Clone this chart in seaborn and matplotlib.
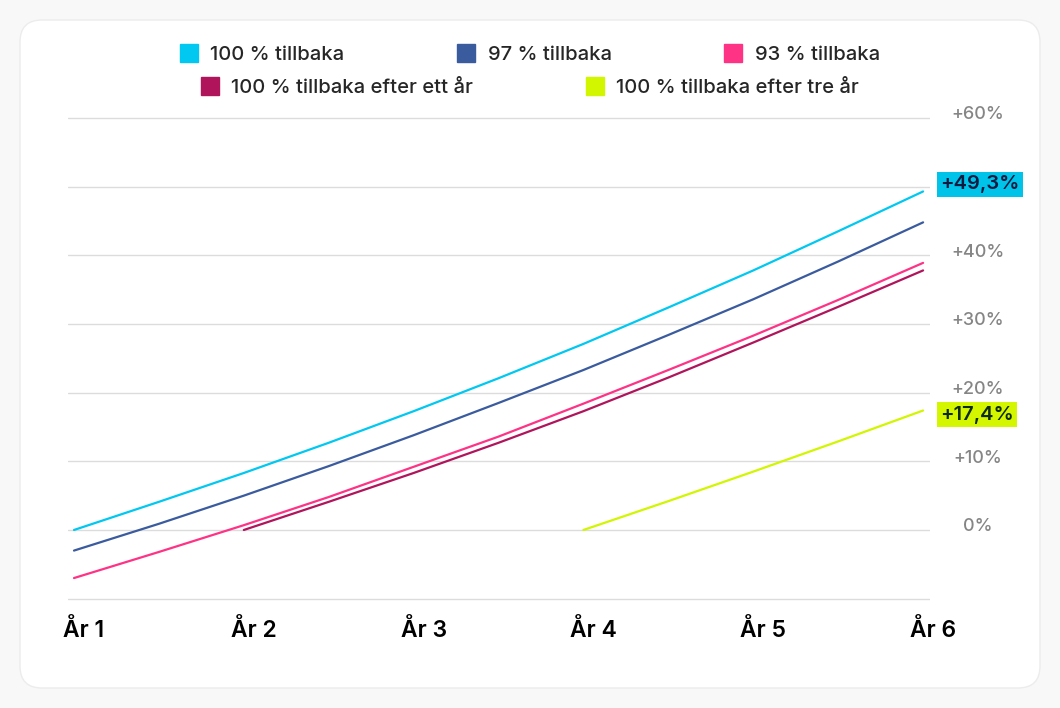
import matplotlib
matplotlib.use("Agg")
import numpy as np
import pandas as pd
import seaborn as sns
import matplotlib.pyplot as plt
from matplotlib.lines import Line2D
from matplotlib.patches import FancyBboxPatch
from matplotlib.transforms import IdentityTransform, ScaledTranslation

# --- data (percent change vs. start, half-year steps) ---
years = [1, 1.5, 2, 2.5, 3, 3.5, 4, 4.5, 5, 5.5, 6]
tick_years = [1, 2, 3, 4, 5, 6]
year_labels = ["År 1", "År 2", "År 3", "År 4", "År 5", "År 6"]
series_names = [
    "100 % tillbaka",
    "97 % tillbaka",
    "93 % tillbaka",
    "100 % tillbaka efter ett år",
    "100 % tillbaka efter tre år",
]
full_back = [0.0, 4.1, 8.3, 12.7, 17.3, 22.1, 27.1, 32.4, 37.8, 43.5, 49.3]
back_97 = [-3.0, 0.9, 5.0, 9.3, 13.8, 18.5, 23.3, 28.4, 33.6, 39.1, 44.8]
back_93 = [-7.0, -3.2, 0.7, 4.8, 9.2, 13.6, 18.4, 23.3, 28.3, 33.5, 38.9]
back_after_1y = [np.nan, np.nan, 0.0, 4.1, 8.3, 12.7, 17.3, 22.2, 27.3, 32.5, 37.8]
back_after_3y = [np.nan, np.nan, np.nan, np.nan, np.nan, np.nan, 0.0, 4.2, 8.5, 12.9, 17.4]
colors = ["#00c8f0", "#3a5b9e", "#ff3385", "#b0155c", "#d2f500"]

ytick_values = [-10, 0, 10, 20, 30, 40, 50, 60]
ytick_labels = ["", "0%", "+10%", "+20%", "+30%", "+40%", "", "+60%"]

all_values = [full_back, back_97, back_93, back_after_1y, back_after_3y]
df = pd.DataFrame(
    [(y, name, v) for name, vals in zip(series_names, all_values)
     for y, v in zip(years, vals)],
    columns=["year", "series", "value"],
).dropna()

sns.set_theme(style="white")
plt.rcParams["font.family"] = ["Inter", "DejaVu Sans"]

fig = plt.figure(figsize=(10.6, 7.08), dpi=100)
fig.patch.set_facecolor("#f8f8f8")

# white card with rounded corners
card = FancyBboxPatch((20, 20), 1020, 668,
                      boxstyle="round,pad=0,rounding_size=22",
                      transform=IdentityTransform(),
                      facecolor="white", edgecolor="#ececec", lw=1, zorder=-1)
fig.add_artist(card)

ax = fig.add_axes([0.0642, 0.1496, 0.8132, 0.6886])
ax.set_facecolor("none")

sns.lineplot(data=df, x="year", y="value", hue="series",
             hue_order=series_names, palette=dict(zip(series_names, colors)),
             linewidth=1.6, legend=False, ax=ax)

ax.set_xlim(0.965, 6.041)
ax.set_ylim(-10.5, 60.5)
ax.set_xlabel("")
ax.set_ylabel("")
for s in ax.spines.values():
    s.set_visible(False)

ax.grid(axis="y", color="#dcdcdc", lw=1)
ax.grid(axis="x", visible=False)

ax.set_yticks(ytick_values, labels=ytick_labels)
ax.yaxis.tick_right()
ax.tick_params(axis="y", length=0, pad=34.5, labelsize=13, labelcolor="#858585")
up = ScaledTranslation(0, 0.05, fig.dpi_scale_trans)
for lab in ax.get_yticklabels():
    lab.set_horizontalalignment("center")
    lab.set_fontweight("medium")
    lab.set_transform(lab.get_transform() + up)

ax.set_xticks(tick_years, labels=year_labels)
ax.tick_params(axis="x", length=0, pad=12, labelsize=16.5, labelcolor="black")
right = ScaledTranslation(0.1, 0, fig.dpi_scale_trans)
for lab in ax.get_xticklabels():
    lab.set_fontweight("semibold")
    lab.set_transform(lab.get_transform() + right)

# end-value badges
def badge(val, dy, fc, tc):
    ax.annotate(("+%.1f%%" % val).replace(".", ","), xy=(years[-1], val),
                xytext=(17, dy), textcoords="offset pixels",
                ha="left", va="center", fontsize=14.5, fontweight="semibold",
                color=tc, annotation_clip=False, zorder=5,
                bbox=dict(boxstyle="square,pad=0.16", fc=fc, ec="none"))

badge(full_back[-1], 7, "#00c3ea", "#0b1b3f")
badge(back_after_3y[-1], -4, "#d4f700", "#0d2a0d")

# legend, two centred rows
handles = [Line2D([], [], marker="s", ls="none", markersize=12.5, color=c)
           for c in colors]
kw = dict(loc="center", frameon=False, columnspacing=5.6,
          handletextpad=0.6, handlelength=0.9, borderaxespad=0,
          prop={"size": 14.5, "weight": "medium"})
fig.legend(handles[:3], series_names[:3], ncol=3,
           bbox_to_anchor=(0.5, 1 - 55 / 708), **kw)
fig.legend(handles[3:], series_names[3:], ncol=2,
           bbox_to_anchor=(0.5, 1 - 88 / 708), **kw)

fig.savefig("out.png", dpi=100, facecolor=fig.get_facecolor())
